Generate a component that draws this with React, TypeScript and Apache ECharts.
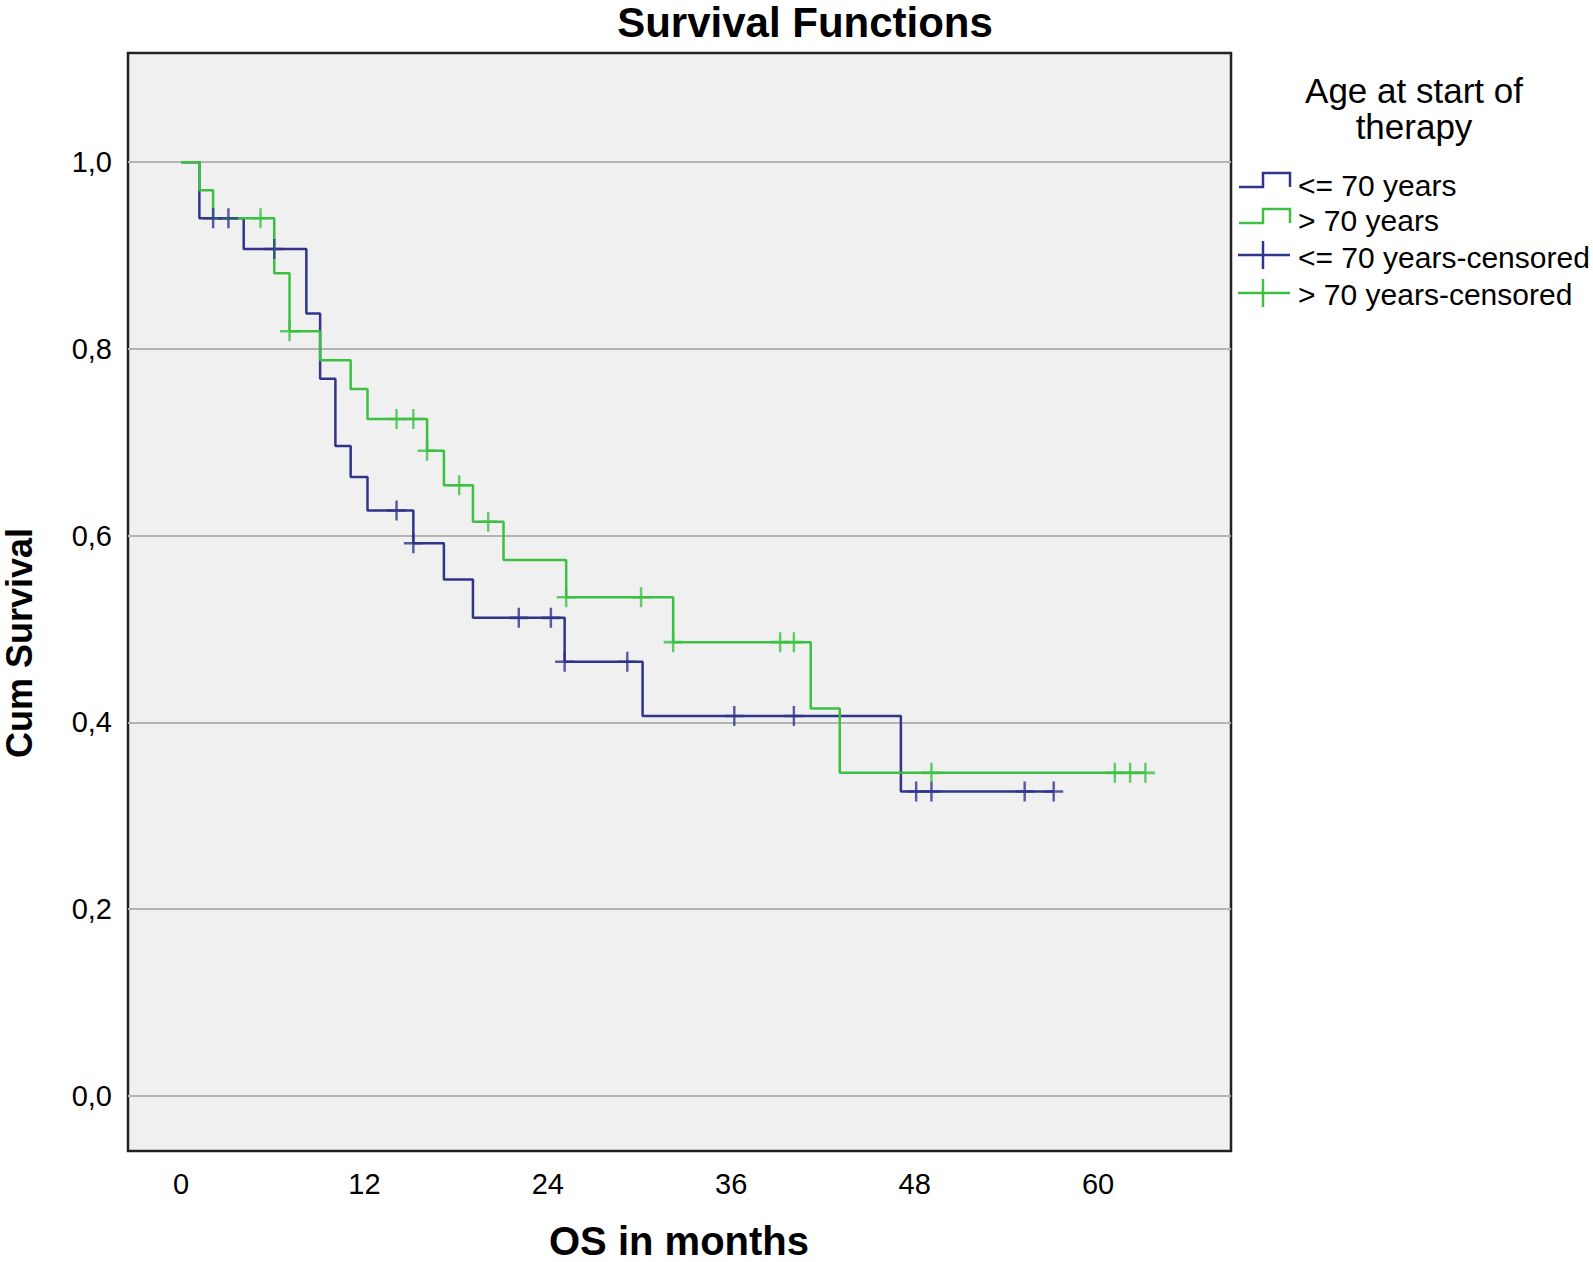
import React, { useEffect, useRef } from "react";
import * as echarts from "echarts";

// ---- data ----
const xTicks = [0, 12, 24, 36, 48, 60];
const yTicks = [0, 0.2, 0.4, 0.6, 0.8, 1.0];

// <= 70 years: event times (months) and survival after each step
const youngTimes = [0, 1.2, 4.1, 8.2, 9.1, 10.1, 11.1, 12.2, 15.2, 17.2, 19.1, 25.1, 30.2, 47.1, 57.1];
const youngSurv = [1.0, 0.94, 0.907, 0.838, 0.768, 0.696, 0.663, 0.627, 0.592, 0.553, 0.512, 0.465, 0.407, 0.326, 0.326];
const youngCensored = [2.1, 3.1, 6.1, 14.1, 15.2, 22.1, 24.2, 25.1, 29.2, 36.2, 40.1, 48.1, 49.1, 55.2, 57.1];

// > 70 years
const oldTimes = [0, 1.2, 2.1, 6.1, 7.1, 9.1, 11.1, 12.2, 16.1, 17.2, 19.1, 21.1, 25.2, 32.2, 41.2, 43.1, 63.1];
const oldSurv = [1.0, 0.97, 0.94, 0.881, 0.819, 0.788, 0.757, 0.725, 0.691, 0.654, 0.615, 0.574, 0.534, 0.486, 0.415, 0.346, 0.346];
const oldCensored = [5.2, 7.1, 14.1, 15.2, 16.1, 18.2, 20.1, 25.2, 30.1, 32.2, 39.2, 40.1, 49.1, 61.1, 62.1, 63.1];

const seriesNames = ["<= 70 years", "> 70 years", "<= 70 years-censored", "> 70 years-censored"];

const BLUE = "#30348a";
const GREEN = "#3cc043";
const FONT = "'Liberation Sans', Arial, sans-serif";

function survAt(times: number[], surv: number[], t: number) {
  let v = surv[0];
  for (let i = 0; i < times.length; i++) {
    if (times[i] <= t + 1e-9) v = surv[i];
  }
  return v;
}

const CROSS = "path://M10,0 L10,20 M0,10 L20,10";

export default function App() {
  const ref = useRef<HTMLDivElement>(null);

  useEffect(() => {
    if (!ref.current) return;
    const chart = echarts.init(ref.current, undefined, { renderer: "svg" });

    const stepIcon = (y: number, color: string) => ({
      type: "polyline",
      shape: { points: [[1239, y], [1263, y], [1263, y - 14], [1290, y - 14], [1290, y]] },
      style: { stroke: color, lineWidth: 2.5, fill: "none" },
    });
    const crossIcon = (y: number, color: string) => ({
      type: "group",
      children: [
        { type: "line", shape: { x1: 1238, y1: y, x2: 1290, y2: y }, style: { stroke: color, lineWidth: 2.5 } },
        { type: "line", shape: { x1: 1263, y1: y - 14, x2: 1263, y2: y + 14 }, style: { stroke: color, lineWidth: 2.5 } },
      ],
    });
    const legendText = (y: number, text: string) => ({
      type: "text",
      x: 1298,
      y,
      style: { text, fill: "#000", font: `30px ${FONT}`, textAlign: "left", textVerticalAlign: "middle" },
    });

    const option: any = {
      animation: false,
      grid: {
        left: 128,
        top: 53,
        width: 1103,
        height: 1098,
        show: true,
        backgroundColor: "#f0f0f0",
        borderColor: "#222",
        borderWidth: 2.5,
      },
      xAxis: {
        type: "value",
        min: -3.47,
        max: 68.7,
        axisLine: { show: false },
        axisTick: { show: false },
        splitLine: { show: false },
        axisLabel: { customValues: xTicks, margin: 18, fontSize: 29, color: "#000", fontFamily: FONT },
      },
      yAxis: {
        type: "value",
        min: -0.059,
        max: 1.117,
        axisLine: { show: false },
        axisTick: { show: false },
        splitLine: {
          show: true,
          showMinLine: false,
          showMaxLine: false,
          lineStyle: { color: "#b4b4b4", width: 2 },
        },
        axisLabel: {
          customValues: yTicks,
          margin: 16,
          fontSize: 29,
          color: "#000",
          fontFamily: FONT,
          formatter: (v: number) => v.toFixed(1).replace(".", ","),
        },
      },
      series: [
        {
          name: seriesNames[0],
          type: "line",
          step: "end",
          showSymbol: false,
          silent: true,
          lineStyle: { color: BLUE, width: 2.5 },
          itemStyle: { color: BLUE },
          data: youngTimes.map((t, i) => [t, youngSurv[i]]),
          z: 2,
        },
        {
          name: seriesNames[1],
          type: "line",
          step: "end",
          showSymbol: false,
          silent: true,
          lineStyle: { color: GREEN, width: 2.5 },
          itemStyle: { color: GREEN },
          data: oldTimes.map((t, i) => [t, oldSurv[i]]),
          z: 3,
        },
        {
          name: seriesNames[2],
          type: "scatter",
          symbol: CROSS,
          symbolSize: [19, 20],
          silent: true,
          itemStyle: { color: "none", borderColor: BLUE, borderWidth: 2.5 },
          data: youngCensored.map((t) => [t, survAt(youngTimes, youngSurv, t)]),
          z: 4,
        },
        {
          name: seriesNames[3],
          type: "scatter",
          symbol: CROSS,
          symbolSize: [19, 20],
          silent: true,
          itemStyle: { color: "none", borderColor: GREEN, borderWidth: 2.5 },
          data: oldCensored.map((t) => [t, survAt(oldTimes, oldSurv, t)]),
          z: 4,
        },
      ],
      graphic: [
        {
          type: "text",
          x: 805,
          y: 1,
          style: { text: "Survival Functions", fill: "#000", font: `bold 42px ${FONT}`, textAlign: "center", textVerticalAlign: "top" },
        },
        {
          type: "text",
          x: 679,
          y: 1261,
          style: { text: "OS in months", fill: "#000", font: `bold 40px ${FONT}`, textAlign: "center", textVerticalAlign: "bottom" },
        },
        {
          type: "text",
          x: 19,
          y: 643,
          rotation: Math.PI / 2,
          style: { text: "Cum Survival", fill: "#000", font: `bold 36px ${FONT}`, textAlign: "center", textVerticalAlign: "middle" },
        },
        {
          type: "text",
          x: 1414,
          y: 90,
          style: { text: "Age at start of", fill: "#000", font: `35px ${FONT}`, textAlign: "center", textVerticalAlign: "middle" },
        },
        {
          type: "text",
          x: 1414,
          y: 126,
          style: { text: "therapy", fill: "#000", font: `35px ${FONT}`, textAlign: "center", textVerticalAlign: "middle" },
        },
        stepIcon(187, BLUE),
        legendText(185, seriesNames[0]),
        stepIcon(223, GREEN),
        legendText(220, seriesNames[1]),
        crossIcon(255, BLUE),
        legendText(257, seriesNames[2]),
        crossIcon(293, GREEN),
        legendText(294, seriesNames[3]),
      ],
    };

    chart.setOption(option);
    return () => chart.dispose();
  }, []);

  return (
    <div
      ref={ref}
      style={{ position: "absolute", left: 0, top: 0, width: 1593, height: 1262, background: "#fff" }}
    />
  );
}
